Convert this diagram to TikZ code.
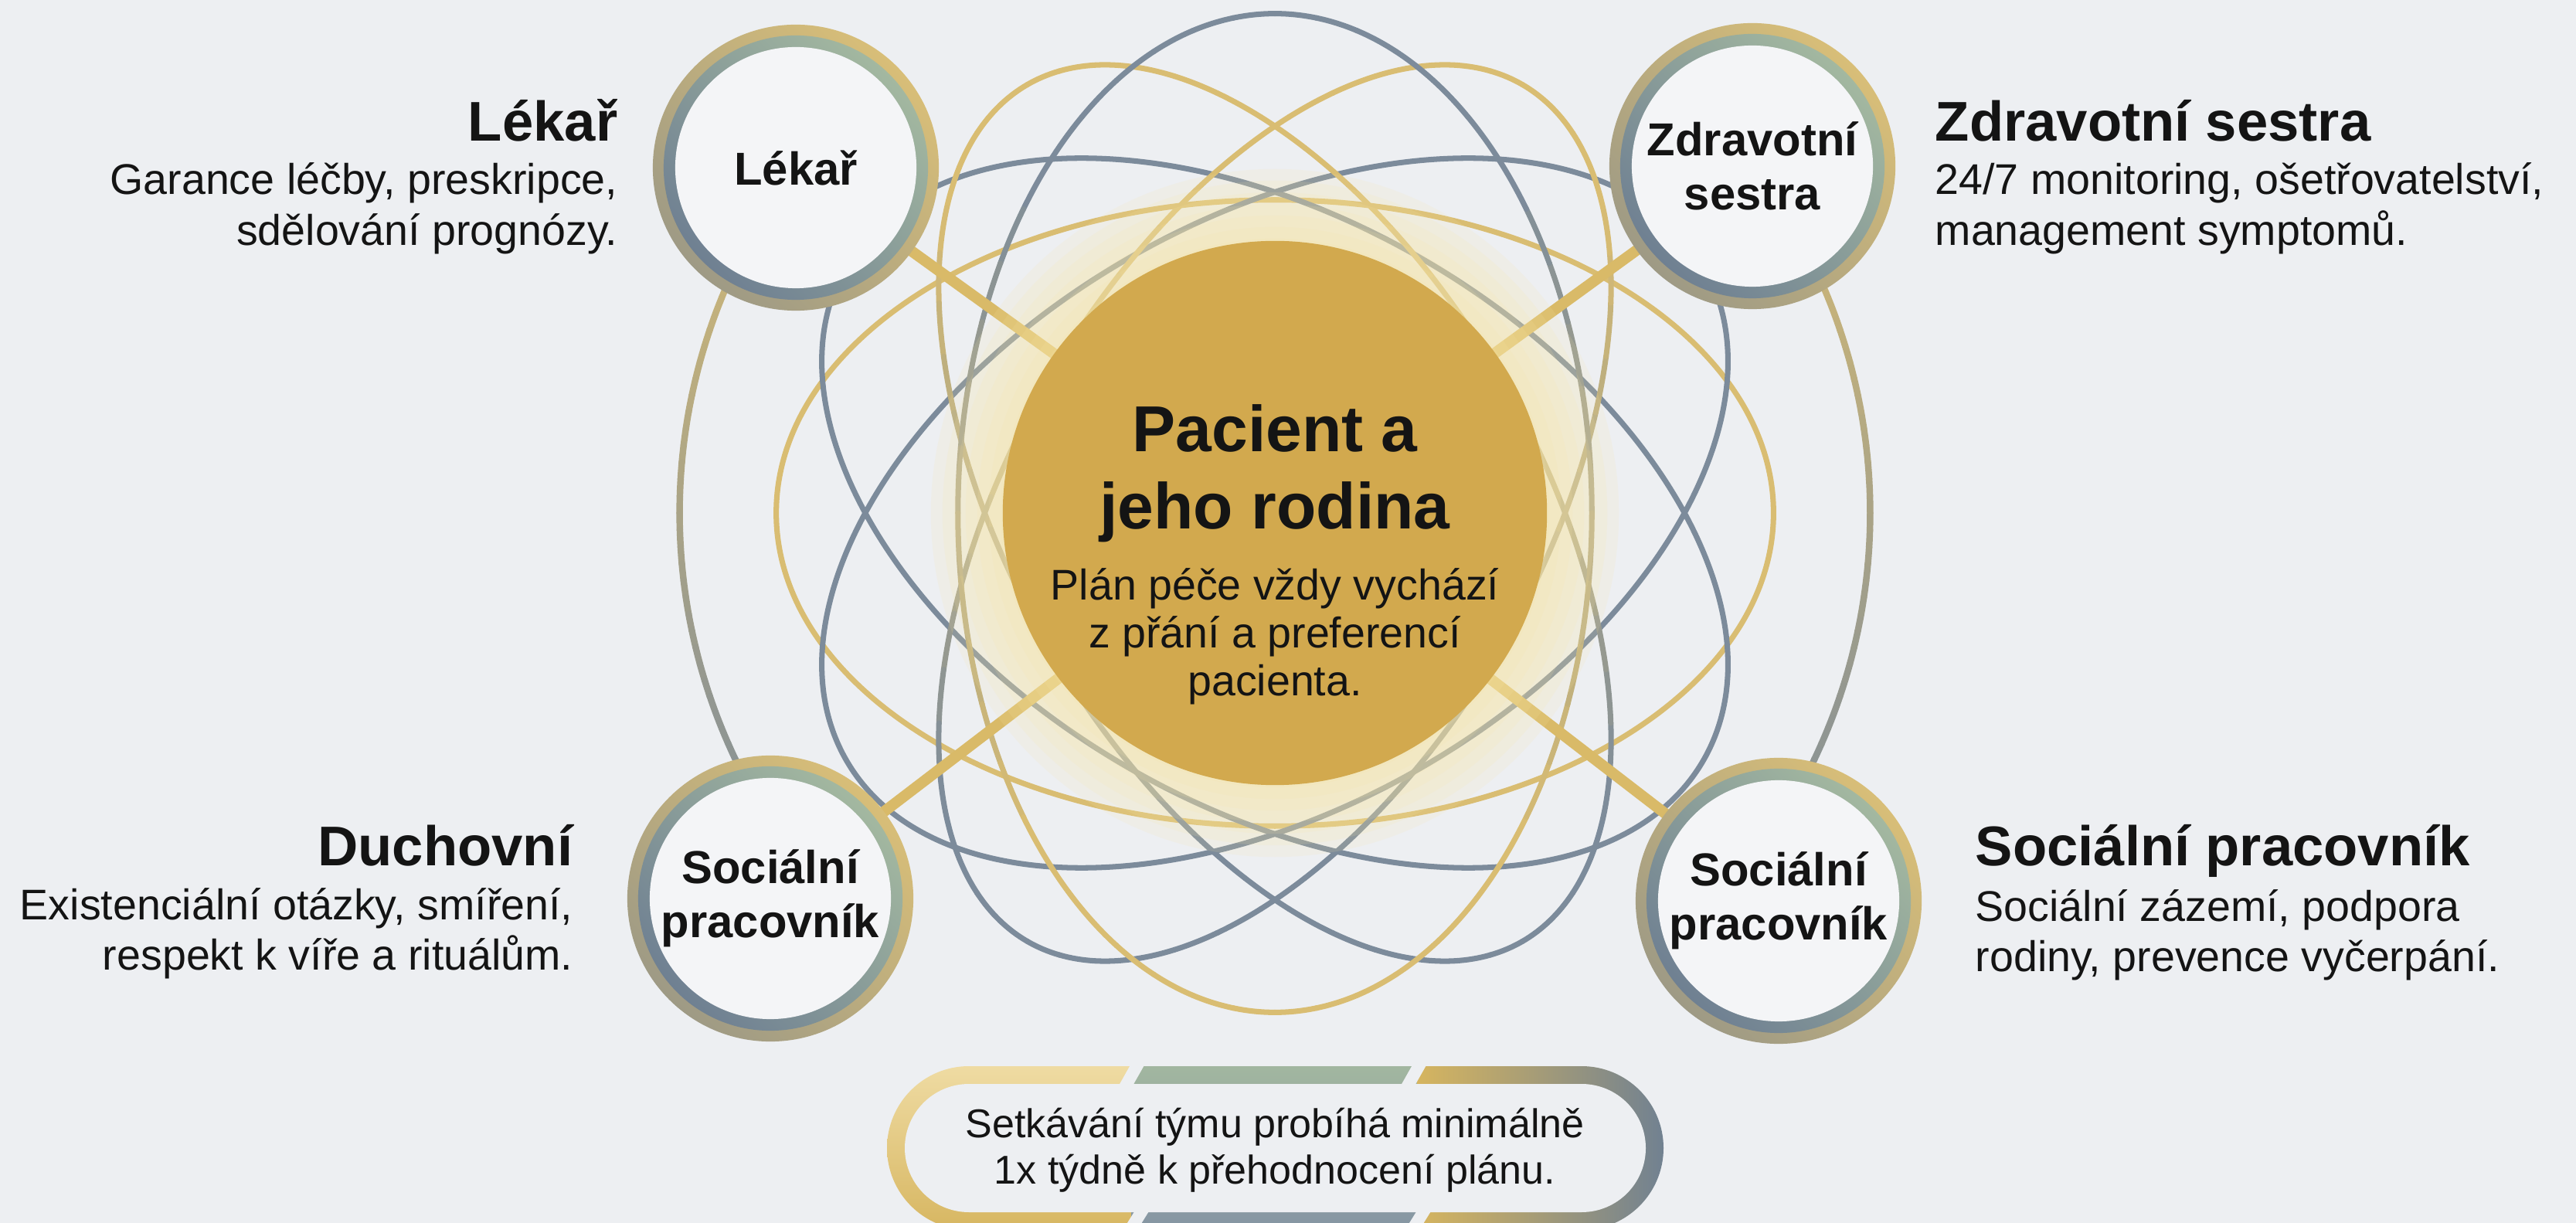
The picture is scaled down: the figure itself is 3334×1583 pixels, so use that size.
\documentclass[tikz,border=0pt]{standalone}
\usepackage{fontspec}
\setmainfont{Liberation Sans}
\usetikzlibrary{calc}
\definecolor{bgc}{HTML}{EDEFF2}
\definecolor{goldl}{HTML}{D9BD72}
\definecolor{bluel}{HTML}{7C8B9B}
\definecolor{diskc}{HTML}{D2A94E}
\definecolor{glowc}{HTML}{F9E6A6}
\definecolor{innerc}{HTML}{F4F5F7}
\definecolor{ringgold}{HTML}{D8BE78}
\definecolor{ringgrey}{HTML}{9E9A85}
\definecolor{slate}{HTML}{6F8092}
\definecolor{sage}{HTML}{A3B8A0}
\definecolor{spokec}{HTML}{D9BA68}
\definecolor{txt}{HTML}{141414}
\definecolor{pillgoldl}{HTML}{F0DDA6}
\definecolor{pillgold}{HTML}{D6B55F}
\definecolor{pillslate}{HTML}{8494A3}

% gradient elliptic arc: cx cy a(cm) b(cm) rot t0 t1 topcolour bottomcolour
\newcommand\gradarc[9]{%
 \begin{scope}[shift={(#1,#2)}, rotate=#5]
 \pgfmathsetmacro\gH{sqrt((#3*sin(#5))*(#3*sin(#5))+(#4*cos(#5))*(#4*cos(#5)))}
 \pgfmathsetmacro\gS{(#7-#6)/48}
 \foreach \k in {1,...,48}{
   \pgfmathsetmacro\tA{#6+\gS*(\k-1)}
   \pgfmathsetmacro\tB{#6+\gS*\k}
   \pgfmathsetmacro\tM{(\tA+\tB)/2}
   \pgfmathtruncatemacro\gP{max(0,min(100,50+75*(#3*cos(\tM)*sin(#5)+#4*sin(\tM)*cos(#5))/\gH))}
   \draw[color=#8!\gP!#9] (\tA:#3cm and #4cm) arc[start angle=\tA, end angle=\tB, x radius=#3cm, y radius=#4cm];
 }
 \end{scope}}

\tikzset{
 orbit/.style={line width=2pt},
 outerorbit/.style={line width=2.4pt},
 spoke/.style={spokec, line width=4pt},
 sidetitle/.style={font=\bfseries\fontsize{20.6}{24}\selectfont, text=txt, inner sep=0pt},
 sidebody/.style={font=\fontsize{15.8}{19}\selectfont, text=txt, inner sep=0pt},
 centertitle/.style={font=\bfseries\fontsize{23.9}{28}\selectfont, text=txt, inner sep=0pt},
 pilltext/.style={font=\fontsize{14.8}{17}\selectfont, text=txt, inner sep=0pt},
 circtext/.style={circle, fill=innerc, minimum size=3.12cm, inner sep=0pt, align=center,
   font=\bfseries\fontsize{17}{20}\selectfont, text=txt},
 ringout/.style={top color=ringgold, bottom color=ringgrey, shading angle=-45},
 ringin/.style={top color=sage, bottom color=slate, shading angle=-45},
}

\begin{document}
\begin{tikzpicture}[x=0.01cm, y=-0.01cm, line cap=round]
\fill[bgc] (0,0) rectangle (3334,1583);
\useasboundingbox (0,0) rectangle (3334,1583);
\clip (0,0) rectangle (3334,1583);

\coordinate (C) at (1650,664);
\coordinate (TLc) at (1030,217);
\coordinate (TRc) at (2268,215);
\coordinate (BLc) at (997,1163);
\coordinate (BRc) at (2302,1166);

% orbits
\draw[goldl, orbit] (C) ellipse [x radius=6.45cm, y radius=4.05cm];
\draw[bluel, orbit, rotate around={30:(C)}] (C) ellipse [x radius=6.4cm, y radius=3.8cm];
\draw[bluel, orbit, rotate around={-30:(C)}] (C) ellipse [x radius=6.4cm, y radius=3.8cm];
\begin{scope}[orbit]
\gradarc{1650}{664}{3.4}{6.4}{30}{0}{360}{goldl}{bluel}
\gradarc{1650}{664}{3.4}{6.4}{-30}{0}{360}{goldl}{bluel}
\gradarc{1650}{664}{4.1}{6.46}{0}{0}{360}{bluel}{goldl}
\end{scope}
\begin{scope}[outerorbit]
\gradarc{1650}{664}{7.7}{7.54}{0}{140}{220}{goldl}{bluel}
\gradarc{1650}{664}{7.7}{7.54}{0}{-40}{40}{goldl}{bluel}
\end{scope}

% spokes
\draw[spoke] (C) -- (TLc);
\draw[spoke] (C) -- (TRc);
\draw[spoke] (C) -- (BLc);
\draw[spoke] (C) -- (BRc);

% glow
\foreach \r in {3.55,3.7,...,4.45} \fill[glowc, opacity=0.14] (C) circle [radius=\r cm];

% centre
\node[circle, fill=diskc, minimum size=7.04cm, inner sep=0pt] (P) at (C) {};
\node[centertitle, anchor=base] (p1) at (1650,585) {Pacient a};
\node[centertitle, anchor=base] (p2) at (1650,685) {jeho rodina};
\node[sidebody, anchor=base] (p3) at (1650,777) {Plán péče vždy vychází};
\node[sidebody, anchor=base] (p4) at (1650,839) {z přání a preferencí};
\node[sidebody, anchor=base] (p5) at (1650,901) {pacienta.};

% role circles
\foreach \c in {TLc,TRc,BLc,BRc}{
  \shade[ringout] (\c) circle [radius=1.85cm];
  \shade[ringin] (\c) circle [radius=1.71cm];
}
\node[circtext] (lek) at (TLc) {Lékař};
\node[circtext] (ses) at (TRc) {Zdravotní\\sestra};
\node[circtext] (duch) at (BLc) {Sociální\\pracovník};
\node[circtext] (soc) at (BRc) {Sociální\\pracovník};

% side texts
\node[sidetitle, anchor=base east] (t1) at (800,183) {Lékař};
\node[sidebody, anchor=base east] (t1a) at (800,252) {Garance léčby, preskripce,};
\node[sidebody, anchor=base east] (t1b) at (800,318) {sdělování prognózy.};

\node[sidetitle, anchor=base west] (t2) at (2504,183) {Zdravotní sestra};
\node[sidebody, anchor=base west] (t2a) at (2504,252) {24/7 monitoring, ošetřovatelství,};
\node[sidebody, anchor=base west] (t2b) at (2504,318) {management symptomů.};

\node[sidetitle, anchor=base east] (t3) at (742,1120) {Duchovní};
\node[sidebody, anchor=base east] (t3a) at (742,1190) {Existenciální otázky, smíření,};
\node[sidebody, anchor=base east] (t3b) at (742,1255) {respekt k víře a rituálům.};

\node[sidetitle, anchor=base west] (t4) at (2556,1120) {Sociální pracovník};
\node[sidebody, anchor=base west] (t4a) at (2556,1192) {Sociální zázemí, podpora};
\node[sidebody, anchor=base west] (t4b) at (2556,1257) {rodiny, prevence vyčerpání.};

% meeting pill
\begin{scope}
 \clip[rounded corners=1.06cm] (1148,1380) rectangle (2153,1592);
 \shade[top color=pillgoldl, bottom color=pillgold] (1140,1370) rectangle (1466,1600);
 \shade[top color=sage, bottom color=pillslate] (1464,1370) rectangle (1836,1600);
 \shade[left color=pillgold, right color=slate] (1834,1370) rectangle (2160,1600);
\end{scope}
\fill[bgc, rounded corners=0.83cm] (1171,1403) rectangle (2130,1569);
\begin{scope}[bgc, line width=4.5pt, line cap=butt]
 \draw (1452,1414) -- (1478,1368);
 \draw (1817,1414) -- (1843,1368);
 \draw (1459,1598) -- (1485,1556);
 \draw (1824,1598) -- (1850,1556);
\end{scope}
\node[pilltext, anchor=base] (m1) at (1650,1472) {Setkávání týmu probíhá minimálně};
\node[pilltext, anchor=base] (m2) at (1650,1532) {1x týdně k přehodnocení plánu.};
\end{tikzpicture}
\end{document}
